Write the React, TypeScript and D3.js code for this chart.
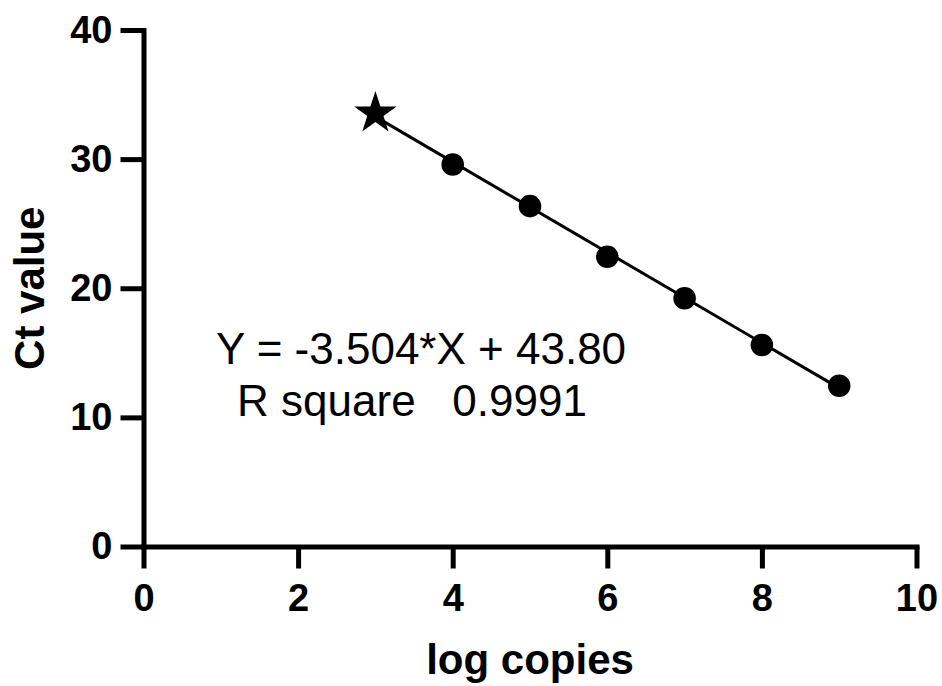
import { useEffect, useRef } from "react";
import * as d3 from "d3";

const logCopies = [3, 4, 5, 6, 7, 8, 9];
const ctValues = [33.54, 29.59, 26.36, 22.44, 19.22, 15.6, 12.45];
const slope = -3.504;
const intercept = 43.8;
const xTicks = [0, 2, 4, 6, 8, 10];
const yTicks = [0, 10, 20, 30, 40];
const fitLabel = "Y = -3.504*X + 43.80";
const r2Label = "R square   0.9991";

const W = 942;
const H = 686;
const font = "'Liberation Sans', Arial, sans-serif";

const App = () => {
  const svgRef = useRef<SVGSVGElement>(null);

  useEffect(() => {
    const svg = d3.select(svgRef.current);
    svg.selectAll("*").remove();

    const x = d3.scaleLinear().domain([0, 10]).range([143.5, 916.5]);
    const y = d3.scaleLinear().domain([0, 40]).range([546.5, 30]);

    const styleAxis = (g, size) => {
      g.select(".domain").attr("stroke-width", 5).attr("stroke-linecap", "square");
      g.selectAll(".tick line").attr("stroke-width", 5);
      g.selectAll(".tick text")
        .attr("font-family", font)
        .attr("font-weight", "bold")
        .attr("font-size", size)
        .attr("fill", "#000");
    };

    svg
      .append("g")
      .attr("transform", `translate(${x(0)},0)`)
      .call(d3.axisLeft(y).tickValues(yTicks).tickSize(23).tickSizeOuter(0).tickPadding(8))
      .call((g) => styleAxis(g, 38));

    svg
      .append("g")
      .attr("transform", `translate(0,${y(0)})`)
      .call(d3.axisBottom(x).tickValues(xTicks).tickSize(22).tickSizeOuter(0).tickPadding(16))
      .call((g) => styleAxis(g, 38));

    // fit line
    const fitLine = d3
      .line<number>()
      .x((d) => x(d))
      .y((d) => y(slope * d + intercept));
    svg
      .append("path")
      .attr("d", fitLine([d3.min(logCopies), d3.max(logCopies)]))
      .attr("stroke", "#000")
      .attr("stroke-width", 3)
      .attr("fill", "none");

    const pts = logCopies.map((lx, i) => ({ lx, ct: ctValues[i], first: i === 0 }));

    svg
      .append("g")
      .selectAll("path")
      .data(pts)
      .join("path")
      .attr("transform", (d) => `translate(${x(d.lx)},${y(d.ct)})`)
      .attr("d", (d) =>
        d.first ? d3.symbol(d3.symbolStar, 560)() : d3.symbol(d3.symbolCircle, 400)()
      )
      .attr("fill", "#000");

    svg
      .append("text")
      .attr("x", 421)
      .attr("y", 364)
      .attr("text-anchor", "middle")
      .attr("font-family", font)
      .attr("font-size", 44)
      .text(fitLabel);

    svg
      .append("text")
      .attr("x", 412)
      .attr("y", 416)
      .attr("text-anchor", "middle")
      .attr("font-family", font)
      .attr("font-size", 44)
      .style("white-space", "pre")
      .text(r2Label);

    svg
      .append("text")
      .attr("x", x(5))
      .attr("y", 674)
      .attr("text-anchor", "middle")
      .attr("font-family", font)
      .attr("font-weight", "bold")
      .attr("font-size", 42)
      .text("log copies");

    svg
      .append("text")
      .attr("transform", `translate(44,${y(20)}) rotate(-90)`)
      .attr("text-anchor", "middle")
      .attr("font-family", font)
      .attr("font-weight", "bold")
      .attr("font-size", 42)
      .text("Ct value");
  }, []);

  return (
    <svg
      ref={svgRef}
      width={W}
      height={H}
      style={{ position: "absolute", left: 0, top: 0, background: "#fff" }}
    />
  );
};

export default App;
